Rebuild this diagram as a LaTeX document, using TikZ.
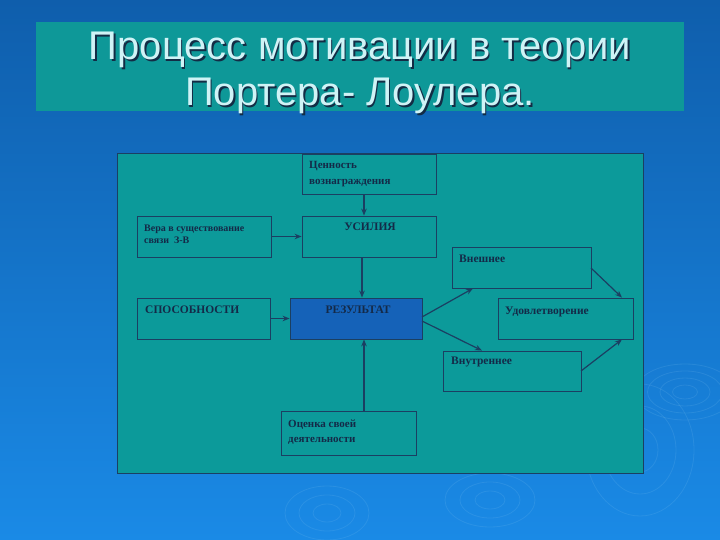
\documentclass[tikz,border=0pt]{standalone}
\usepackage{fontspec}
\setmainfont{Liberation Serif}
\newfontfamily\titlefont{Liberation Sans}
\usetikzlibrary{arrows.meta}
\definecolor{bgtop}{HTML}{0F5EAC}
\definecolor{bgbot}{HTML}{1A8AE6}
\definecolor{teal1}{HTML}{0E9898}
\definecolor{panelc}{HTML}{0C9A9A}
\definecolor{edge}{HTML}{1B3F62}
\definecolor{inkc}{HTML}{142A48}
\definecolor{resc}{HTML}{1562B8}
\definecolor{titlec}{HTML}{CFF3F6}
\definecolor{ripple}{HTML}{8CCBF2}
\tikzset{
  box/.style={draw=edge, line width=0.8pt, fill=panelc, inner sep=0pt, rectangle},
  txt/.style={anchor=north west, inner sep=0pt, text=inkc, font=\bfseries\fontsize{11.5}{14}\selectfont, align=left},
  arr/.style={draw=edge, line width=1.2pt, -{Stealth[length=7pt,width=5.5pt]}},
  rip/.style={draw=ripple, line width=0.8pt, opacity=0.15}
}
\begin{document}
\begin{tikzpicture}[x=1pt,y=-1pt]
\useasboundingbox (0,0) rectangle (720,540);
\shade[top color=bgtop, bottom color=bgbot] (0,0) rectangle (720,540);
% ripples
\foreach \r in {1,2,3,4}{\draw[rip] (685,392) ellipse ({\r*12.5} and {\r*7});}
\foreach \r in {1,2,3}{\draw[rip] (640,450) ellipse ({\r*18} and {\r*22});}
\foreach \r in {1,2,3}{\draw[rip] (490,500) ellipse ({\r*15} and {\r*9});}
\foreach \r in {1,2,3}{\draw[rip] (327,513) ellipse ({\r*14} and {\r*9});}
% title
\node[fill=teal1, minimum width=648, minimum height=89, inner sep=0pt] (titlebox) at (360,66.5) {};
\node[align=center, text=edge!70!black, font=\titlefont\fontsize{40}{46}\selectfont] (titleshadow) at (361.5,74.5) {Процесс мотивации в теории\\Портера- Лоулера.};
\node[align=center, text=titlec, font=\titlefont\fontsize{40}{46}\selectfont] (title) at (360,73) {Процесс мотивации в теории\\Портера- Лоулера.};
% panel
\node[box, line width=1pt, minimum width=526, minimum height=319] (panel) at (380,313.5) {};
% boxes
\node[box, minimum width=134, minimum height=40] (cen) at (369,174) {};
\node[txt, font=\bfseries\fontsize{11}{16}\selectfont] (cent) at (309,161) {Ценность\\вознаграждения};
\node[box, minimum width=134, minimum height=41] (vera) at (204,236.5) {};
\node[txt, font=\bfseries\fontsize{10}{12}\selectfont] (verat) at (144,225) {Вера в существование\\связи \ З-В};
\node[box, minimum width=134, minimum height=41] (usil) at (369,236.5) {};
\node[txt, anchor=north] (usilt) at (370,223) {УСИЛИЯ};
\node[box, minimum width=139, minimum height=41] (vnesh) at (521.5,267.5) {};
\node[txt] (vnesht) at (459,255) {Внешнее};
\node[box, minimum width=133, minimum height=41] (spos) at (203.5,318.5) {};
\node[txt] (spost) at (145,306) {СПОСОБНОСТИ};
\node[box, fill=resc, minimum width=132, minimum height=41] (res) at (356,318.5) {};
\node[txt, anchor=north] (rest) at (358,306) {РЕЗУЛЬТАТ};
\node[box, minimum width=135, minimum height=41] (udov) at (565.5,318.5) {};
\node[txt] (udovt) at (505,307) {Удовлетворение};
\node[box, minimum width=138, minimum height=40] (vnutr) at (512,371) {};
\node[txt] (vnutrt) at (451,357) {Внутреннее};
\node[box, minimum width=135, minimum height=44] (ocen) at (348.5,433) {};
\node[txt, font=\bfseries\fontsize{11}{15}\selectfont] (ocent) at (288,420) {Оценка своей\\деятельности};
% connectors
\draw[arr] (cen.south -| 364,0) -- (usil.north -| 364,0);
\draw[arr] (vera.east) -- (usil.west);
\draw[arr] (usil.south -| 362,0) -- (res.north -| 362,0);
\draw[arr] (spos.east) -- (res.west);
\draw[arr] (ocen.north -| 364,0) -- (res.south -| 364,0);
\coordinate (r1) at (422,317);
\coordinate (r2) at (422,321);
\draw[arr] (r1) -- (vnesh.south -| 473,0);
\draw[arr] (r2) -- (vnutr.north -| 482,0);
\coordinate (v1) at (591,268);
\draw[arr] (v1) -- (udov.north -| 622,0);
\coordinate (v2) at (581,371);
\draw[arr] (v2) -- (udov.south -| 622,0);
\end{tikzpicture}
\end{document}
